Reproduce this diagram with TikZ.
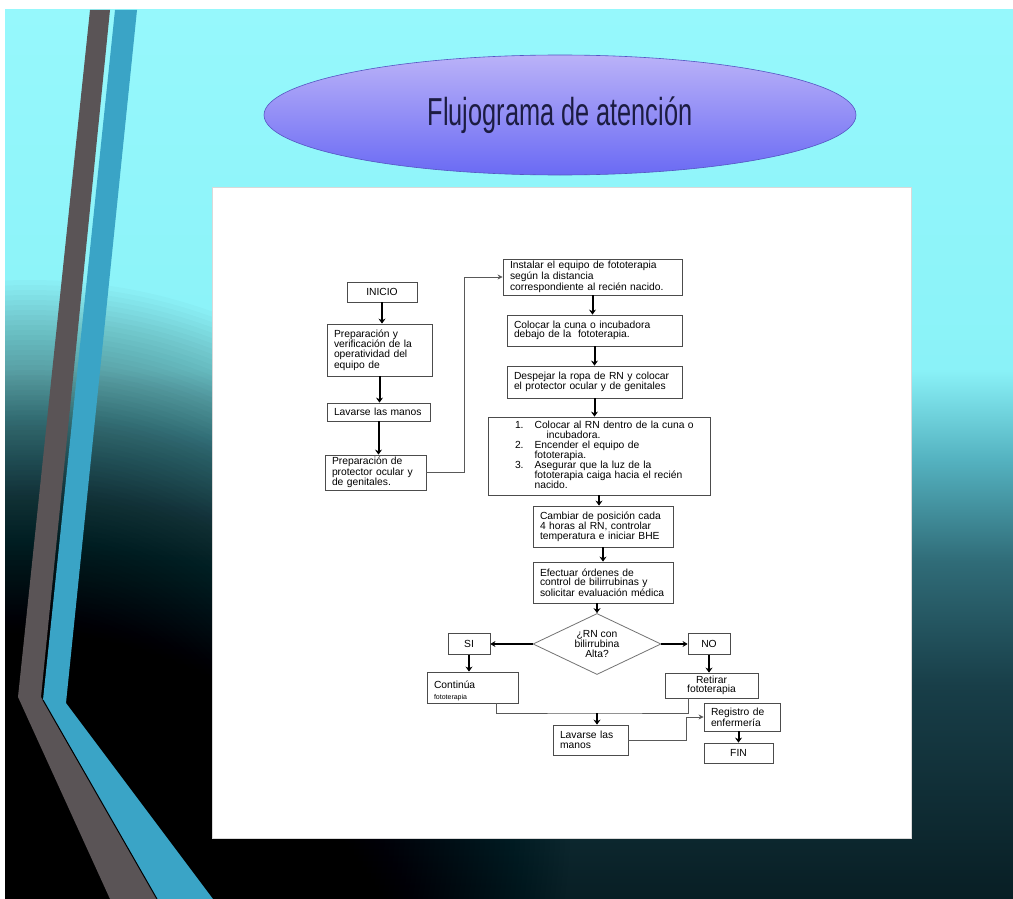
\documentclass[tikz,border=0pt]{standalone}
\usepackage{fontspec}
\setmainfont{Liberation Sans}
\usepackage{graphicx}
\usepackage{tikz}
\usetikzlibrary{positioning,calc,shapes.geometric,arrows.meta}

\definecolor{cielo}{RGB}{150,248,252}
\definecolor{cielob}{RGB}{138,242,248}
\definecolor{claro}{RGB}{84,178,192}
\definecolor{medio}{RGB}{48,108,120}
\definecolor{fondob}{RGB}{24,62,72}
\definecolor{fondo}{RGB}{8,30,36}
\definecolor{franjagris}{RGB}{90,84,86}
\definecolor{franjaazul}{RGB}{58,164,198}
\definecolor{lilaarriba}{RGB}{186,178,248}
\definecolor{lilaabajo}{RGB}{106,106,244}
\definecolor{tinta}{RGB}{28,28,66}

\pgfdeclareverticalshading{cielofondo}{100bp}{color(0bp)=(fondo); color(25bp)=(fondo); color(37bp)=(fondob); color(44bp)=(medio); color(49.7bp)=(claro); color(54.8bp)=(cielob); color(75bp)=(cielo); color(100bp)=(cielo)}

\newcommand{\letra}{\fontsize{10.3pt}{9.6pt}\selectfont}

\tikzset{
  caja/.style={draw=black!70, line width=0.8pt, fill=white, font=\letra, align=left, inner xsep=7pt, inner ysep=2pt},
  flecha/.style={-{Stealth[length=5pt,width=7pt]}, line width=2pt},
  flechita/.style={-{Stealth[length=5pt,width=6pt]}, line width=1.2pt},
  enlace/.style={draw=black!65, line width=0.9pt},
}

\begin{document}
\begin{tikzpicture}[x=1pt,y=-1pt]
\useasboundingbox (0,0) rectangle (1013,899);
% fondo
\fill[white] (0,0) rectangle (1013,899);
\shade[shading=cielofondo] (5,10) rectangle (1013,899);
\begin{scope}
  \clip (5,10) rectangle (1013,899);
  \foreach \r in {540,535,...,20}
    \fill[black, fill opacity=0.018] (30,820) circle (\r);
\end{scope}
% franjas
\fill[franjagris] (90,10) -- (110,10) -- (41,697) -- (157,899) -- (110,899) -- (18,697) -- cycle;
\fill[franjaazul] (115,10) -- (137,10) -- (66,703) -- (213,899) -- (157,899) -- (43,700) -- cycle;
\draw[black, line width=1pt] (43,700) -- (157,899);

% titulo
\node[ellipse, draw=lilaabajo!80!black, line width=0.6pt, top color=lilaarriba, bottom color=lilaabajo, minimum width=592pt, minimum height=120pt, text=tinta, font=\fontsize{39pt}{44pt}\selectfont] (titulo) at (560,115) {\scalebox{0.65}[1]{Flujograma de atención}};

% hoja
\fill[white, draw=black!15] (212,187) rectangle (911,838);

% columna izquierda
\node[caja, align=center, minimum width=70pt, minimum height=20pt] (inicio) at (382,292) {INICIO};
\node[caja, text width=91pt, minimum height=52pt] (prepara) at (379.5,350) {Preparación y\\verificación de la\\operatividad del\\equipo de};
\node[caja, text width=89pt, minimum height=18pt] (lavado) at (378.5,412) {Lavarse las manos};
\node[caja, text width=87pt, minimum height=35pt] (protector) at (375.5,472.5) {Preparación de\\protector ocular y\\de genitales.};

% columna central
\node[caja, text width=165pt, minimum height=36pt] (instala) at (592.5,277) {Instalar el equipo de fototerapia\\según la distancia\\correspondiente al recién nacido.};
\node[caja, text width=161pt, minimum height=31pt] (cuna) at (594.5,330.5) {Colocar la cuna o incubadora\\debajo de la \ fototerapia.};
\node[caja, text width=161pt, minimum height=32pt] (ropa) at (594.5,382) {Despejar la ropa de RN y colocar\\el protector ocular y de genitales};
\node[caja, text width=208pt, minimum height=78pt] (pasos) at (599,456) {\def\arraystretch{0.9}%
  \begin{tabular}{@{\hspace{20pt}}l@{\hspace{11pt}}l@{}}
  1. & Colocar al RN dentro de la cuna o\\
     & \hspace{12pt}incubadora.\\
  2. & Encender el equipo de\\
     & fototerapia.\\
  3. & Asegurar que la luz de la\\
     & fototerapia caiga hacia el recién\\
     & nacido.
  \end{tabular}};
\node[caja, text width=126pt, minimum height=41pt] (posicion) at (603,526.5) {Cambiar de posición cada\\4 horas al RN, controlar\\temperatura e iniciar BHE};
\node[caja, text width=126pt, minimum height=41pt] (ordenes) at (603,582.5) {Efectuar órdenes de\\control de bilirrubinas y\\solicitar evaluación médica};
\node[diamond, draw=black!55, line width=0.8pt, aspect=2.1, inner sep=0pt, font=\letra, align=center, minimum width=128pt, minimum height=61pt] (decision) at (597,644) {¿RN con\\bilirrubina\\Alta?};

% ramas
\node[caja, align=center, minimum width=42pt, minimum height=21pt] (si) at (469,644) {SI};
\node[caja, align=center, minimum width=42pt, minimum height=21pt] (no) at (709,644) {NO};
\node[caja, text width=77pt, minimum height=31pt] (continua) at (472.5,687.5) {\rule{0pt}{15pt}Continúa\\[1pt]{\fontsize{7pt}{7pt}\selectfont fototerapia}};
\node[caja, align=center, minimum width=93pt, minimum height=25pt] (retira) at (711.5,685.5) {Retirar\\fototerapia};
\node[caja, text width=61pt, minimum height=30pt] (lavado2) at (590.5,740) {Lavarse las\\manos};
\node[caja, text width=62pt, minimum height=28pt] (registro) at (742,717) {Registro de\\enfermería};
\node[caja, align=center, minimum width=69pt, minimum height=20pt] (fin) at (738.5,753) {FIN};
\coordinate (union) at (597,713);

% conectores
\draw[flecha] (inicio.south) -- (inicio.south |- prepara.north);
\draw[flecha] (prepara.south) -- (prepara.south |- lavado.north);
\draw[flecha] (lavado.south) -- (lavado.south |- protector.north);
\draw[enlace, -{Stealth[length=5pt,width=5pt]}] (protector.east) -- ++(38,0) |- (instala.west);
\draw[flecha] (instala.south) -- (instala.south |- cuna.north);
\draw[flecha] (cuna.south) -- (cuna.south |- ropa.north);
\draw[flecha] (ropa.south) -- (ropa.south |- pasos.north);
\draw[flecha] (pasos.south) -- (pasos.south |- posicion.north);
\draw[flecha] (posicion.south) -- (posicion.south |- ordenes.north);
\draw[flecha] (ordenes.south -| decision.north) -- (decision.north);
\draw[flechita] (decision.west) -- (si.east);
\draw[flechita] (decision.east) -- (no.west);
\draw[flecha] (si.south) -- (si.south |- continua.north);
\draw[flecha] (no.south) -- (no.south |- retira.north);
\draw[enlace] ([xshift=23.5pt]continua.south) |- (union) -| ([xshift=-23.5pt]retira.south);
\draw[flecha] (union) -- (union |- lavado2.north);
\draw[enlace, -{Stealth[length=5pt,width=5pt]}] (lavado2.east) -- ++(58,0) |- (registro.west);
\draw[flecha] (fin.north |- registro.south) -- (fin.north);
\end{tikzpicture}
\end{document}
